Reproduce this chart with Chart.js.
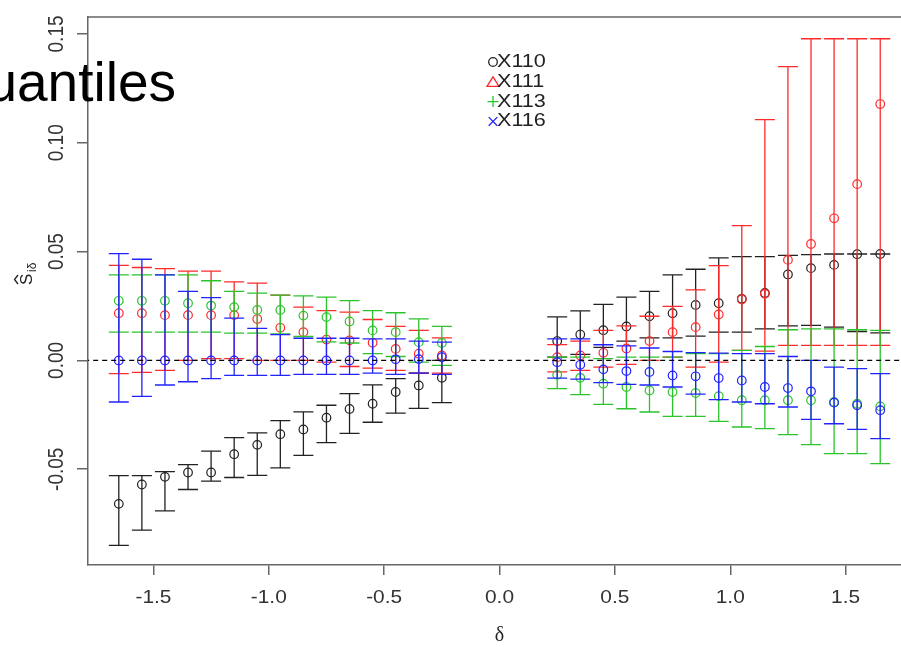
<!DOCTYPE html>
<html>
<head>
<meta charset="utf-8">
<script src="https://cdn.jsdelivr.net/npm/chart.js@4.4.1/dist/chart.umd.min.js"></script>
<style>
  html, body { margin: 0; padding: 0; background: #fff; }
  canvas { display: block; }
</style>
</head>
<body>
<canvas id="grafico_quantis" width="901" height="647"></canvas>
<script>
// valores de delta (eixo x)
const deltas = [-1.65, -1.55, -1.45, -1.35, -1.25, -1.15, -1.05, -0.95, -0.85, -0.75, -0.65, -0.55, -0.45, -0.35, -0.25,
                0.25, 0.35, 0.45, 0.55, 0.65, 0.75, 0.85, 0.95, 1.05, 1.15, 1.25, 1.35, 1.45, 1.55, 1.65];

const series = ['X110', 'X111', 'X113', 'X116'];

// X110
const est110 = [-0.0659, -0.0570, -0.0535, -0.0515, -0.0515, -0.0431, -0.0388, -0.0339, -0.0317, -0.0263, -0.0223, -0.0199, -0.0145, -0.0115, -0.0080,
                0.0089, 0.0119, 0.0139, 0.0156, 0.0203, 0.0217, 0.0255, 0.0263, 0.0283, 0.0310, 0.0395, 0.0424, 0.0439, 0.0488, 0.0489];
const lo110 = [-0.0850, -0.0780, -0.0691, -0.0593, -0.0555, -0.0538, -0.0528, -0.0494, -0.0436, -0.0378, -0.0335, -0.0284, -0.0242, -0.0220, -0.0194,
               0.0015, 0.0028, 0.0060, 0.0089, 0.0104, 0.0104, 0.0112, 0.0130, 0.0130, 0.0145, 0.0159, 0.0161, 0.0153, 0.0133, 0.0127];
const hi110 = [-0.0529, -0.0529, -0.0511, -0.0479, -0.0417, -0.0355, -0.0333, -0.0277, -0.0236, -0.0206, -0.0153, -0.0112, -0.0084, -0.0058, 0.0000,
               0.0200, 0.0228, 0.0258, 0.0291, 0.0317, 0.0393, 0.0419, 0.0471, 0.0477, 0.0477, 0.0483, 0.0486, 0.0489, 0.0489, 0.0489];

// X111
const est111 = [0.0217, 0.0217, 0.0208, 0.0208, 0.0208, 0.0208, 0.0190, 0.0150, 0.0130, 0.0096, 0.0092, 0.0081, 0.0053, 0.0031, 0.0023,
                0.0015, 0.0023, 0.0035, 0.0055, 0.0089, 0.0130, 0.0153, 0.0211, 0.0280, 0.0306, 0.0462, 0.0535, 0.0653, 0.0810, 0.1178];
const lo111 = [-0.0061, -0.0055, -0.0046, 0.0000, 0.0008, 0.0008, 0.0000, 0.0000, 0.0000, -0.0008, -0.0028, -0.0035, -0.0046, -0.0058, -0.0058,
               -0.0053, -0.0046, -0.0031, -0.0018, 0.0000, 0.0015, -0.0031, -0.0008, 0.0046, 0.0043, 0.0069, 0.0069, 0.0069, 0.0069, 0.0069];
const hi111 = [0.0437, 0.0427, 0.0422, 0.0410, 0.0410, 0.0361, 0.0355, 0.0300, 0.0245, 0.0229, 0.0222, 0.0188, 0.0156, 0.0138, 0.0104,
               0.0073, 0.0089, 0.0138, 0.0159, 0.0203, 0.0248, 0.0324, 0.0436, 0.0619, 0.1106, 0.1350, 0.1478, 0.1478, 0.1478, 0.1478];

// X113
const est113 = [0.0274, 0.0274, 0.0274, 0.0263, 0.0252, 0.0245, 0.0232, 0.0232, 0.0206, 0.0199, 0.0179, 0.0138, 0.0130, 0.0084, 0.0080,
                -0.0066, -0.0080, -0.0107, -0.0122, -0.0138, -0.0145, -0.0150, -0.0164, -0.0183, -0.0183, -0.0183, -0.0183, -0.0191, -0.0199, -0.0211];
const lo113 = [0.0130, 0.0130, 0.0130, 0.0130, 0.0130, 0.0125, 0.0125, 0.0122, 0.0110, 0.0085, 0.0080, 0.0031, 0.0018, -0.0008, -0.0023,
               -0.0130, -0.0157, -0.0202, -0.0222, -0.0237, -0.0257, -0.0257, -0.0280, -0.0306, -0.0313, -0.0341, -0.0387, -0.0428, -0.0428, -0.0474];
const hi113 = [0.0393, 0.0393, 0.0393, 0.0393, 0.0366, 0.0317, 0.0309, 0.0300, 0.0297, 0.0291, 0.0275, 0.0229, 0.0219, 0.0191, 0.0156,
               0.0015, 0.0015, 0.0008, 0.0015, 0.0015, 0.0015, 0.0031, 0.0031, 0.0046, 0.0064, 0.0141, 0.0145, 0.0145, 0.0141, 0.0138];

// X116
const est116 = [0.0000, 0.0000, 0.0000, 0.0000, 0.0000, 0.0000, 0.0000, 0.0000, 0.0000, 0.0000, 0.0000, 0.0000, 0.0005, 0.0006, 0.0015,
                -0.0008, -0.0020, -0.0041, -0.0049, -0.0053, -0.0069, -0.0073, -0.0081, -0.0092, -0.0122, -0.0127, -0.0142, -0.0194, -0.0206, -0.0229];
const lo116 = [-0.0191, -0.0165, -0.0113, -0.0098, -0.0084, -0.0069, -0.0069, -0.0069, -0.0064, -0.0064, -0.0064, -0.0058, -0.0064, -0.0058, -0.0064,
               -0.0081, -0.0086, -0.0102, -0.0110, -0.0113, -0.0122, -0.0155, -0.0180, -0.0191, -0.0199, -0.0214, -0.0271, -0.0291, -0.0317, -0.0359];
const hi116 = [0.0491, 0.0465, 0.0393, 0.0317, 0.0289, 0.0194, 0.0147, 0.0119, 0.0102, 0.0102, 0.0102, 0.0099, 0.0099, 0.0089, 0.0084,
               0.0099, 0.0099, 0.0072, 0.0067, 0.0057, 0.0041, 0.0036, 0.0034, 0.0031, 0.0031, 0.0018, 0.0000, -0.0031, -0.0038, -0.0061];

const xTicks = [-1.5, -1.0, -0.5, 0.0, 0.5, 1.0, 1.5];
const yTicks = [-0.05, 0.00, 0.05, 0.10, 0.15];

const cores = ['#222222', '#ff2a2a', '#2ac42a', '#2222ff'];
const simbolos = ['circle', 'triangle', 'plus', 'cross'];

function pontos(est, lo, hi) {
  return deltas.map((d, i) => ({ x: d, y: est[i], lo: lo[i], hi: hi[i] }));
}

const dadosSeries = [
  pontos(est110, lo110, hi110),
  pontos(est111, lo111, hi111),
  pontos(est113, lo113, hi113),
  pontos(est116, lo116, hi116)
];

// barras de erro desenhadas com as escalas do grafico
const barrasErro = {
  id: 'barrasErro',
  afterDatasetDraw(chart, args) {
    const ds = chart.data.datasets[args.index];
    if (!ds.barras) return;
    const { ctx, chartArea, scales: { x, y } } = chart;
    ctx.save();
    ctx.beginPath();
    ctx.rect(chartArea.left, chartArea.top, chartArea.right - chartArea.left, chartArea.bottom - chartArea.top);
    ctx.clip();
    ctx.strokeStyle = ds.borderColor;
    ctx.lineWidth = 1.3;
    ds.data.forEach(p => {
      const px = x.getPixelForValue(p.x);
      const yl = y.getPixelForValue(p.lo);
      const yh = y.getPixelForValue(p.hi);
      ctx.beginPath();
      ctx.moveTo(px, yl); ctx.lineTo(px, yh);
      ctx.moveTo(px - 10, yl); ctx.lineTo(px + 10, yl);
      ctx.moveTo(px - 10, yh); ctx.lineTo(px + 10, yh);
      ctx.stroke();
    });
    ctx.restore();
  }
};

// textos, moldura e legenda no estilo R
const decoracao = {
  id: 'decoracao',
  afterDraw(chart) {
    const { ctx, chartArea, scales: { x, y } } = chart;
    ctx.save();

    // moldura superior
    ctx.strokeStyle = '#666';
    ctx.lineWidth = 1.5;
    ctx.beginPath();
    ctx.moveTo(chartArea.left, chartArea.top);
    ctx.lineTo(chartArea.right, chartArea.top);
    ctx.stroke();

    // rotulos do eixo x
    ctx.fillStyle = '#333';
    ctx.font = '18px "Liberation Sans", Arial, sans-serif';
    ctx.textAlign = 'center';
    ctx.textBaseline = 'middle';
    x.ticks.forEach(t => {
      ctx.save();
      ctx.translate(x.getPixelForValue(t.value), 598);
      ctx.scale(1.16, 1);
      ctx.fillText(t.value.toFixed(1), 0, 0);
      ctx.restore();
    });

    // rotulos do eixo y (verticais)
    ctx.font = '19px "Liberation Sans", Arial, sans-serif';
    y.ticks.forEach(t => {
      ctx.save();
      ctx.translate(57, y.getPixelForValue(t.value));
      ctx.rotate(-Math.PI / 2);
      ctx.scale(1, 1.12);
      ctx.fillText(t.value.toFixed(2), 0, 0);
      ctx.restore();
    });

    // titulo dos eixos
    ctx.fillStyle = '#222';
    ctx.font = '20px "Liberation Serif", "DejaVu Serif", serif';
    ctx.fillText('δ', x.getPixelForValue(0), 636);

    ctx.save();
    ctx.translate(32, 285);
    ctx.rotate(-Math.PI / 2);
    ctx.textAlign = 'left';
    ctx.textBaseline = 'alphabetic';
    ctx.font = '17px "Liberation Sans", Arial, sans-serif';
    ctx.fillText('S', 0, 0);
    ctx.strokeStyle = '#222';
    ctx.lineWidth = 1.3;
    ctx.beginPath();
    ctx.moveTo(1, -14); ctx.lineTo(5.5, -17.5); ctx.lineTo(10, -14);
    ctx.stroke();
    ctx.font = '12px "Liberation Sans", Arial, sans-serif';
    ctx.fillText('iδ', 13, 4);
    ctx.restore();

    // legenda
    const lx = 493, ly0 = 62, dy = 19.8;
    series.forEach((nome, i) => {
      const cy = ly0 + i * dy;
      ctx.strokeStyle = cores[i];
      ctx.lineWidth = 1.3;
      ctx.beginPath();
      if (simbolos[i] === 'circle') {
        ctx.arc(lx, cy, 4.3, 0, Math.PI * 2);
      } else if (simbolos[i] === 'triangle') {
        ctx.moveTo(lx - 6, cy + 4.5); ctx.lineTo(lx + 6, cy + 4.5); ctx.lineTo(lx, cy - 5); ctx.closePath();
      } else if (simbolos[i] === 'plus') {
        ctx.moveTo(lx - 5.5, cy); ctx.lineTo(lx + 5.5, cy);
        ctx.moveTo(lx, cy - 5.5); ctx.lineTo(lx, cy + 5.5);
      } else {
        ctx.moveTo(lx - 4.3, cy - 4.3); ctx.lineTo(lx + 4.3, cy + 4.3);
        ctx.moveTo(lx - 4.3, cy + 4.3); ctx.lineTo(lx + 4.3, cy - 4.3);
      }
      ctx.stroke();
      ctx.save();
      ctx.translate(497, cy);
      ctx.scale(1.2, 1);
      ctx.fillStyle = '#222';
      ctx.font = '18px "Liberation Sans", Arial, sans-serif';
      ctx.textAlign = 'left';
      ctx.fillText(nome, 0, 0);
      ctx.restore();
    });

    // titulo sobreposto (cortado na margem)
    ctx.fillStyle = '#000';
    ctx.font = '55px "Liberation Sans", Arial, sans-serif';
    ctx.textAlign = 'right';
    ctx.textBaseline = 'alphabetic';
    ctx.fillText('Quantiles', 176, 101);

    ctx.restore();
  }
};

const datasets = series.map((nome, i) => ({
  type: 'scatter',
  label: nome,
  data: dadosSeries[i],
  barras: true,
  borderColor: cores[i],
  backgroundColor: 'rgba(0,0,0,0)',
  pointStyle: 'circle',
  pointRadius: 4.3,
  pointBorderWidth: 1.2,
  order: 4 - i
}));

datasets.push({
  type: 'line',
  label: 'zero',
  data: [{ x: -1.8, y: 0 }, { x: 1.8, y: 0 }],
  borderColor: '#000',
  borderWidth: 1.2,
  borderDash: [5, 4],
  pointRadius: 0,
  order: 0
});

const ctx = document.getElementById('grafico_quantis').getContext('2d');

const grafico = new Chart(ctx, {
  type: 'scatter',
  data: { datasets: datasets },
  options: {
    responsive: false,
    animation: false,
    events: [],
    layout: { autoPadding: false, padding: { left: 0, top: 17, right: 0, bottom: 0 } },
    plugins: {
      legend: { display: false },
      tooltip: { enabled: false },
      title: { display: false }
    },
    scales: {
      x: {
        type: 'linear',
        min: -1.7835,
        max: 1.740,
        afterBuildTicks: s => { s.ticks = xTicks.map(v => ({ value: v })); },
        afterFit: s => { s.height = 82; },
        ticks: { display: false },
        grid: { drawOnChartArea: false, drawTicks: true, tickLength: 10, color: '#666', lineWidth: 1.5 },
        border: { display: true, color: '#666', width: 1.5 }
      },
      y: {
        type: 'linear',
        min: -0.0940,
        max: 0.1578,
        afterBuildTicks: s => { s.ticks = yTicks.map(v => ({ value: v })); },
        afterFit: s => { s.width = 88; },
        ticks: { display: false },
        grid: { drawOnChartArea: false, drawTicks: true, tickLength: 11, color: '#666', lineWidth: 1.5 },
        border: { display: true, color: '#666', width: 1.5 }
      }
    }
  },
  plugins: [barrasErro, decoracao]
});
</script>
</body>
</html>
